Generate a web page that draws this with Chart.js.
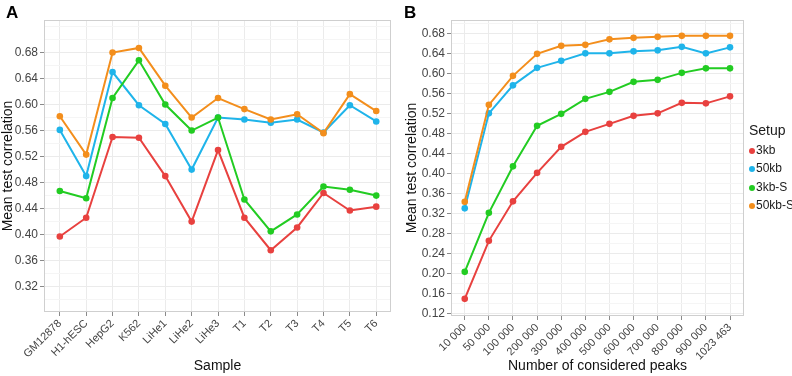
<!DOCTYPE html>
<html>
<head>
<meta charset="utf-8">
<script src="https://cdn.jsdelivr.net/npm/chart.js@4"></script>
<style>
	body { margin: 0; background: #fff; font-family: 'Liberation Sans', Arial, sans-serif; }
	#wrap { position: relative; width: 792px; height: 376px; }
	canvas { position: absolute; top: 0; }
	.panel { position: absolute; top: 3px; font-weight: bold; font-size: 17px; color: #000; }
	#legend { position: absolute; left: 749px; top: 122px; color: #1a1a1a; white-space: nowrap; }
	#legend .title { font-size: 14px; margin-bottom: 3px; }
	#legend .item { font-size: 12px; height: 18.3px; line-height: 18.3px; }
	#legend .dot { display: inline-block; width: 6px; height: 6px; border-radius: 50%; margin-right: 1px; vertical-align: 0px; }
</style>
</head>
<body>
<div id="wrap">
	<canvas id="js-chart-a" width="400" height="376" style="left:0"></canvas>
	<canvas id="js-chart-b" width="392" height="376" style="left:400px"></canvas>
	<div class="panel" style="left:6px">A</div>
	<div class="panel" style="left:404px">B</div>
	<div id="legend"></div>
</div>
<script>
// Setups (legend order) and colours
const setups = ['3kb', '50kb', '3kb-S', '50kb-S']
const colors = ['#e8413f', '#1fb4ea', '#22cc22', '#f38e1c']

// Panel A : mean test correlation per sample
const samples = ['GM12878', 'H1-hESC', 'HepG2', 'K562', 'LiHe1', 'LiHe2', 'LiHe3', 'T1', 'T2', 'T3', 'T4', 'T5', 'T6']
const corr3kbA = [0.397, 0.426, 0.550, 0.549, 0.490, 0.420, 0.530, 0.426, 0.376, 0.411, 0.464, 0.437, 0.443]
const corr50kbA = [0.561, 0.490, 0.650, 0.599, 0.570, 0.500, 0.580, 0.577, 0.572, 0.577, 0.557, 0.599, 0.574]
const corr3kbSA = [0.467, 0.456, 0.610, 0.668, 0.600, 0.560, 0.580, 0.454, 0.405, 0.431, 0.474, 0.469, 0.460]
const corr50kbSA = [0.582, 0.523, 0.680, 0.687, 0.629, 0.580, 0.610, 0.593, 0.577, 0.585, 0.556, 0.616, 0.590]
const yTicksA = [0.32, 0.36, 0.40, 0.44, 0.48, 0.52, 0.56, 0.60, 0.64, 0.68]

// Panel B : mean test correlation vs number of considered peaks
const peaks = ['10 000', '50 000', '100 000', '200 000', '300 000', '400 000', '500 000', '600 000', '700 000', '800 000', '900 000', '1023 463']
const corr3kbB = [0.149, 0.265, 0.344, 0.401, 0.453, 0.483, 0.499, 0.515, 0.520, 0.541, 0.540, 0.554]
const corr50kbB = [0.330, 0.520, 0.576, 0.611, 0.625, 0.640, 0.640, 0.644, 0.646, 0.653, 0.640, 0.652]
const corr3kbSB = [0.203, 0.321, 0.414, 0.495, 0.519, 0.549, 0.563, 0.583, 0.587, 0.601, 0.610, 0.610]
const corr50kbSB = [0.343, 0.537, 0.595, 0.639, 0.655, 0.657, 0.668, 0.671, 0.673, 0.675, 0.675, 0.675]
const yTicksB = [0.12, 0.16, 0.20, 0.24, 0.28, 0.32, 0.36, 0.40, 0.44, 0.48, 0.52, 0.56, 0.60, 0.64, 0.68]

Chart.defaults.font.family = "'Liberation Sans', Arial, sans-serif"
Chart.defaults.color = '#4d4d4d'

// Grey box round the plotting area
const panelBorder = {
	id: 'panelBorder',
	beforeDatasetsDraw(chart) {
		const { ctx, chartArea: a } = chart
		ctx.save()
		ctx.strokeStyle = '#cfcfcf'
		ctx.lineWidth = 1
		ctx.strokeRect(a.left + 0.5, a.top + 0.5, a.right - a.left - 1, a.bottom - a.top - 1)
		ctx.restore()
	}
}

const isMajor = (ticks, v) => ticks.some(t => Math.abs(t - v) < 1e-6)

function makeDatasets(series) {
	return series.map((values, i) => ({
		label: setups[i],
		data: values.map((v, j) => ({ x: j, y: v })),
		borderColor: colors[i],
		backgroundColor: colors[i],
		borderWidth: 2,
		pointRadius: 3.3,
		pointBorderWidth: 0,
		order: series.length - i
	}))
}

function makeChart(canvas, opts) {
	const { labels, series, yTicks, yMin, yMax, xPad, xTitle, yWidth, xHeight, padLeft, padRight } = opts
	// minor grid lines halfway between the labelled ticks
	const step = yTicks[1] - yTicks[0]
	const gridY = []
	for (let v = yTicks[0] - step / 2; v <= yMax; v += step / 2) {
		if (v >= yMin) gridY.push(+v.toFixed(4))
	}
	return new Chart(canvas, {
		type: 'line',
		data: { datasets: makeDatasets(series) },
		options: {
			responsive: false,
			animation: false,
			layout: { autoPadding: false, padding: { top: 20, left: padLeft, right: padRight, bottom: 0 } },
			plugins: { legend: { display: false }, tooltip: { enabled: false } },
			scales: {
				x: {
					type: 'linear',
					min: -xPad[0],
					max: labels.length - 1 + xPad[1],
					afterBuildTicks: s => { s.ticks = labels.map((_, i) => ({ value: i })) },
					afterFit: s => { s.height = xHeight },
					border: { display: false },
					grid: { color: '#ebebeb', tickColor: '#8a8a8a', tickLength: 4 },
					ticks: {
						autoSkip: false,
						minRotation: 45,
						maxRotation: 45,
						padding: 1,
						color: '#444',
						font: { size: 11 },
						callback: v => labels[v]
					},
					title: { display: true, text: xTitle, color: '#111', font: { size: 14 }, padding: { top: 0, bottom: 1 } }
				},
				y: {
					min: yMin,
					max: yMax,
					afterBuildTicks: s => { s.ticks = gridY.map(v => ({ value: v })) },
					afterFit: s => { s.width = yWidth },
					border: { display: false },
					grid: {
						color: c => isMajor(yTicks, c.tick.value) ? '#ebebeb' : '#f5f5f5',
						tickColor: c => isMajor(yTicks, c.tick.value) ? '#8a8a8a' : 'rgba(0,0,0,0)',
						tickLength: 4
					},
					ticks: {
						autoSkip: false,
						padding: 2,
						color: '#444',
						font: { size: 12 },
						callback: v => isMajor(yTicks, v) ? v.toFixed(2) : ''
					},
					title: { display: true, text: 'Mean test correlation', color: '#111', font: { size: 14 }, padding: { top: 0, bottom: 2 } }
				}
			}
		},
		plugins: [panelBorder]
	})
}

const chartA = makeChart(document.getElementById('js-chart-a'), {
	labels: samples,
	series: [corr3kbA, corr50kbA, corr3kbSA, corr50kbSA],
	yTicks: yTicksA,
	yMin: 0.281,
	yMax: 0.730,
	xPad: [0.6, 0.56],
	xTitle: 'Sample',
	yWidth: 44,
	xHeight: 64,
	padLeft: 0,
	padRight: 9
})

const chartB = makeChart(document.getElementById('js-chart-b'), {
	labels: peaks,
	series: [corr3kbB, corr50kbB, corr3kbSB, corr50kbSB],
	yTicks: yTicksB,
	yMin: 0.1147,
	yMax: 0.7067,
	xPad: [0.57, 0.58],
	xTitle: 'Number of considered peaks',
	yWidth: 47,
	xHeight: 60,
	padLeft: 4,
	padRight: 48
})

// Legend for the setups
const legend = document.getElementById('legend')
legend.innerHTML = '<div class="title">Setup</div>' + setups.map((s, i) =>
	`<div class="item"><span class="dot" style="background:${colors[i]}"></span>${s}</div>`).join('')
</script>
</body>
</html>
